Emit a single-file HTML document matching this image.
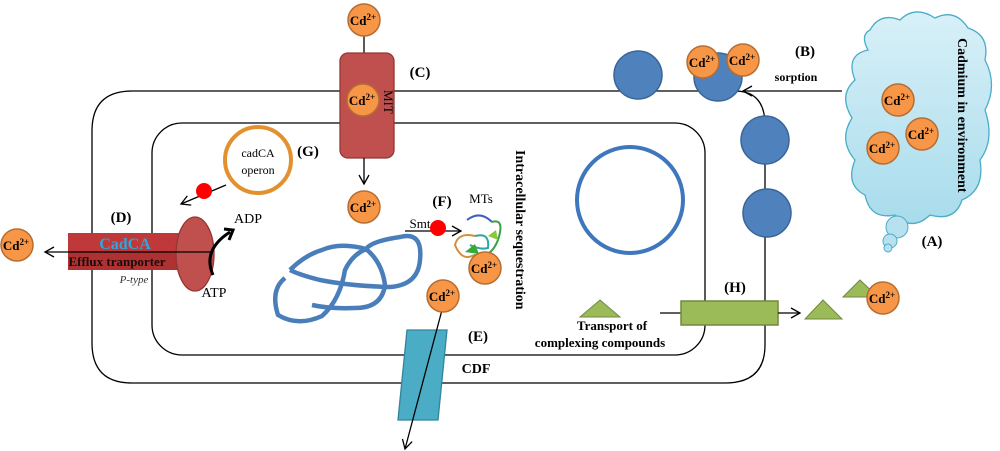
<!DOCTYPE html>
<html><head><meta charset="utf-8"><style>
html,body{margin:0;padding:0;background:#fff}
svg{display:block}
text{font-family:"Liberation Serif",serif}
</style></head><body>
<svg width="1000" height="451" viewBox="0 0 1000 451" xmlns="http://www.w3.org/2000/svg">
<defs>
<marker id="ar" markerWidth="12" markerHeight="12" refX="10" refY="6" orient="auto" markerUnits="userSpaceOnUse"><path d="M1,1 L10,6 L1,11" fill="none" stroke="#000" stroke-width="1.3"/></marker>
<linearGradient id="cl" x1="0" y1="0" x2="0" y2="1"><stop offset="0" stop-color="#d8f0f8"/><stop offset="1" stop-color="#a8dcec"/></linearGradient>
<g id="cd"><circle r="16" fill="#f79646" stroke="#b66d31" stroke-width="1.5"/><text x="-1" y="5" text-anchor="middle" font-size="13" font-weight="bold">Cd<tspan font-size="9" dy="-5">2+</tspan></text></g>
</defs>
<path d="M132,91 L735,91 Q765,91 765,125 L765,345 Q765,383 725,383 L132,383 Q92,383 92,343 L92,131 Q92,91 132,91 Z" fill="none" stroke="#000" stroke-width="1.3"/>
<rect x="152" y="123" width="553" height="232" rx="30" fill="none" stroke="#000" stroke-width="1.3"/>
<line x1="842" y1="91" x2="743" y2="91" stroke="#000" stroke-width="1.3" marker-end="url(#ar)"/>
<text x="805" y="56" font-size="15" font-weight="bold" text-anchor="middle">(B)</text>
<text x="796" y="81" font-size="12" font-weight="bold" text-anchor="middle">sorption</text>
<g fill="#4f81bd" stroke="#3a6597" stroke-width="1.5">
<circle cx="638" cy="75" r="24"/><circle cx="718" cy="77" r="24"/><circle cx="765" cy="140" r="24"/><circle cx="767" cy="213" r="24"/>
</g>
<use href="#cd" x="703" y="62"/><use href="#cd" x="743" y="60"/>
<path d="M870,30 Q880,12 900,20 Q915,5 935,18 Q955,8 968,28 Q990,35 985,60 Q998,85 985,110 Q995,140 980,160 Q985,190 962,200 Q955,222 930,215 Q912,232 895,215 Q870,220 865,195 Q845,185 855,160 Q838,140 852,118 Q838,95 855,80 Q845,55 868,50 Q860,35 870,30 Z" fill="url(#cl)" stroke="#4bacc6" stroke-width="1.3"/>
<circle cx="897" cy="227" r="11" fill="#b7e1ef" stroke="#4bacc6"/>
<circle cx="890" cy="241" r="7" fill="#b7e1ef" stroke="#4bacc6"/>
<circle cx="888" cy="248" r="4" fill="#b7e1ef" stroke="#4bacc6"/>
<use href="#cd" x="898" y="100"/><use href="#cd" x="922" y="134"/><use href="#cd" x="883" y="148"/>
<text transform="translate(958,38) rotate(90)" font-size="14" font-weight="bold">Cadmium in environment</text>
<text x="932" y="246" font-size="15" font-weight="bold" text-anchor="middle">(A)</text>
<line x1="364" y1="36" x2="364" y2="54" stroke="#000" stroke-width="1.3"/>
<use href="#cd" x="364" y="20"/>
<rect x="340" y="53" width="54" height="105" rx="8" fill="#c0504d" stroke="#943634" stroke-width="1.3"/>
<use href="#cd" x="363" y="100"/>
<text transform="translate(384,90) rotate(90)" font-size="13">MIT</text>
<line x1="364" y1="158" x2="364" y2="184" stroke="#000" stroke-width="1.3" marker-end="url(#ar)"/>
<use href="#cd" x="364" y="207"/>
<text x="420" y="77" font-size="15" font-weight="bold" text-anchor="middle">(C)</text>
<circle cx="258" cy="160" r="33" fill="#fff" stroke="#e3912f" stroke-width="4"/>
<text x="258" y="157" font-size="12" text-anchor="middle">cadCA</text>
<text x="258" y="174" font-size="12" text-anchor="middle">operon</text>
<text x="308" y="156" font-size="15" font-weight="bold" text-anchor="middle">(G)</text>
<line x1="226" y1="185" x2="181" y2="204" stroke="#000" stroke-width="1.3" marker-end="url(#ar)"/>
<circle cx="204" cy="191" r="8" fill="#f00"/>
<rect x="68" y="233" width="130" height="37" fill="#c0393a"/>
<rect x="68" y="252" width="130" height="18" fill="#9e2a2a" opacity="0.5"/>
<ellipse cx="195" cy="254" rx="19" ry="37" fill="#c0504d" stroke="#943634" stroke-width="1.3"/>
<use href="#cd" x="17" y="245"/>
<line x1="210" y1="252" x2="45" y2="252" stroke="#000" stroke-width="1.3" marker-end="url(#ar)"/>
<text x="125" y="249" font-size="16" font-weight="bold" fill="#2aa8e0" text-anchor="middle">CadCA</text>
<text x="117" y="266" font-size="13" font-weight="bold" fill="#1a0a0a" text-anchor="middle">Efflux tranporter</text>
<text x="134" y="283" font-size="11" font-style="italic" fill="#333" text-anchor="middle">P-type</text>
<text x="121" y="222" font-size="15" font-weight="bold" text-anchor="middle">(D)</text>
<path d="M213,275 Q202,250 230,232" fill="none" stroke="#000" stroke-width="3"/>
<path d="M224,229 L233,230 L229,240" fill="none" stroke="#000" stroke-width="3"/>
<text x="248" y="223" font-size="14" text-anchor="middle">ADP</text>
<text x="214" y="297" font-size="14" text-anchor="middle">ATP</text>
<path d="M290,270 Q305,255 322,250 Q340,242 366,249 Q372,241 400,237 Q423,231 420,260 Q418,285 390,287 Q350,286 320,280 Q300,275 290,270 M366,249 Q382,262 385,285 Q382,308 355,308 Q330,309 312,305 M285,278 Q270,290 278,315 Q298,327 322,316 Q340,300 345,270 Q352,255 366,249" fill="none" stroke="#4a7ebb" stroke-width="4.5" stroke-linejoin="round"/>
<text x="420" y="228" font-size="13" text-anchor="middle">Smt</text>
<line x1="405" y1="231" x2="461" y2="231" stroke="#000" stroke-width="1.3" marker-end="url(#ar)"/>
<circle cx="438" cy="228" r="8" fill="#f00"/>
<text x="442" y="206" font-size="15" font-weight="bold" text-anchor="middle">(F)</text>
<text x="481" y="203" font-size="13" text-anchor="middle">MTs</text>
<path d="M467,220 Q480,210 492,222" fill="none" stroke="#3a5fc0" stroke-width="2"/>
<path d="M492,222 Q505,218 498,240 Q490,260 474,255" fill="none" stroke="#3aa048" stroke-width="2"/>
<path d="M474,255 Q462,262 455,245 Q458,232 475,236" fill="none" stroke="#d09040" stroke-width="2"/>
<path d="M475,236 Q490,232 488,248 Q480,250 470,245" fill="none" stroke="#2aa8a0" stroke-width="2"/>
<path d="M465,252 l10,-8 l4,10 z" fill="#39a935"/>
<path d="M488,236 l8,-6 l2,10 z" fill="#8cc63f"/>
<use href="#cd" x="485" y="268"/>
<text transform="translate(516,150) rotate(90)" font-size="14" font-weight="bold">Intracellular sequestration</text>
<circle cx="630" cy="200" r="53" fill="none" stroke="#3f77bd" stroke-width="4"/>
<path d="M407,330 L447,330 L438,420 L398,420 Z" fill="#4bacc6" stroke="#31859c" stroke-width="1.3"/>
<line x1="442" y1="310" x2="405" y2="449" stroke="#000" stroke-width="1.3" marker-end="url(#ar)"/>
<use href="#cd" x="443" y="296"/>
<text x="478" y="341" font-size="15" font-weight="bold" text-anchor="middle">(E)</text>
<text x="476" y="373" font-size="14" font-weight="bold" text-anchor="middle">CDF</text>
<path d="M600,300 L620,317 L580,317 Z" fill="#9bbb59" stroke="#71893f"/>
<line x1="660" y1="313" x2="681" y2="313" stroke="#000" stroke-width="1.3"/>
<rect x="681" y="301" width="97" height="24" fill="#9bbb59" stroke="#71893f" stroke-width="1.5"/>
<line x1="778" y1="313" x2="800" y2="313" stroke="#000" stroke-width="1.3" marker-end="url(#ar)"/>
<path d="M823,300 L842,319 L805,319 Z" fill="#9bbb59" stroke="#71893f"/>
<path d="M860,280 L878,297 L843,297 Z" fill="#9bbb59" stroke="#71893f"/>
<use href="#cd" x="883" y="298"/>
<text x="735" y="292" font-size="15" font-weight="bold" text-anchor="middle">(H)</text>
<text x="612" y="330" font-size="13" font-weight="bold" text-anchor="middle">Transport of</text>
<text x="600" y="347" font-size="13" font-weight="bold" text-anchor="middle">complexing compounds</text>
</svg>
</body></html>
